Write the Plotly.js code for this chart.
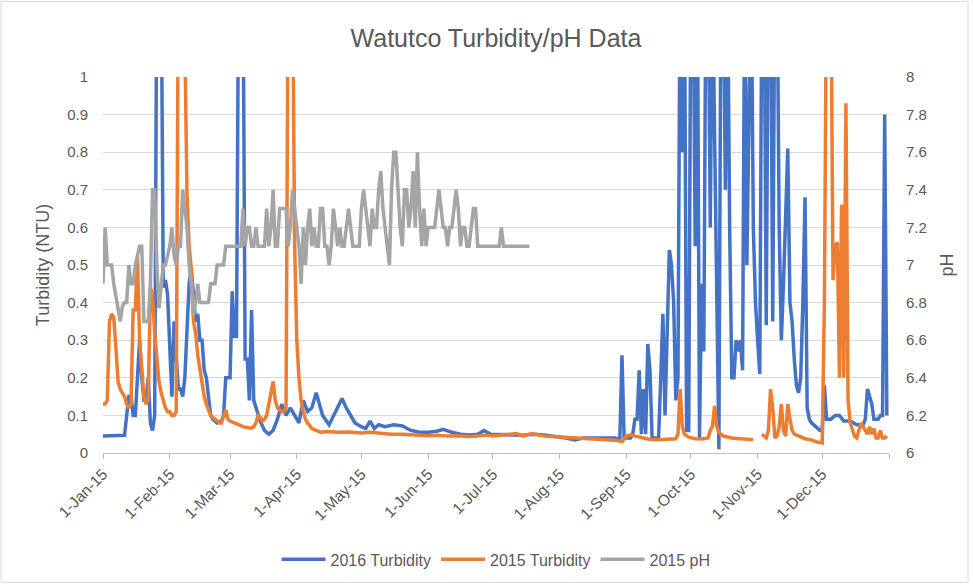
<!DOCTYPE html>
<html>
<head>
<meta charset="utf-8">
<script src="https://cdn.plot.ly/plotly-3.0.1.min.js"></script>
<style>
html,body{margin:0;padding:0;background:#fff;}
#chart{width:973px;height:588px;}
</style>
</head>
<body>
<div id="chart"></div>
<script>
// ---- Data (dates as MM-DD in 2015) ----
const seriesNames = ['2016 Turbidity', '2015 Turbidity', '2015 pH'];

const turb2016Dates = ['01-01','01-05','01-09','01-11','01-12','01-13','01-14','01-15','01-16','01-17','01-18','01-19','01-20','01-21','01-22','01-23','01-24','01-25','01-26','01-27','01-28','01-29','01-30','01-31',
'02-01','02-02','02-03','02-04','02-05','02-06','02-07','02-08','02-09','02-10','02-11','02-12','02-13','02-14','02-15','02-16','02-17','02-18','02-19','02-20','02-21','02-23','02-25','02-26','02-27','02-28',
'03-01','03-02','03-03','03-04','03-05','03-06','03-07','03-08','03-09','03-10','03-11','03-12','03-13','03-14','03-15','03-17','03-19','03-21','03-23','03-25','03-27','03-29','03-31',
'04-02','04-04','04-06','04-08','04-10','04-11','04-13','04-16','04-20','04-22','04-24','04-26','04-28',
'05-01','05-03','05-05','05-07','05-09','05-12','05-16','05-20','05-24','05-28',
'06-01','06-05','06-08','06-12','06-16','06-20','06-24','06-27','06-30',
'07-05','07-10','07-15','07-20','07-25','07-30',
'08-04','08-08','08-12','08-16','08-20','08-24','08-27','08-29','08-30','08-31',
'09-01','09-03','09-04','09-05','09-06','09-07','09-08','09-09','09-10','09-11','09-12','09-13','09-14','09-15','09-16','09-17','09-18','09-19','09-20','09-21','09-22','09-23','09-24','09-25','09-26','09-27','09-28','09-29','09-30',
'10-01','10-02','10-03','10-04','10-05','10-06','10-07','10-08','10-09','10-10','10-11','10-12','10-13','10-14','10-15','10-16','10-17','10-18','10-19','10-20','10-21','10-22','10-23','10-24','10-25','10-26','10-27','10-28','10-29','10-30','10-31',
'11-01','11-02','11-03','11-04','11-05','11-06','11-07','11-08','11-09','11-10','11-11','11-12','11-13','11-14','11-15','11-16','11-17','11-18','11-19','11-20','11-21','11-22','11-23','11-24','11-25','11-26','11-28','11-30',
'12-01','12-02','12-03','12-05','12-07','12-09','12-11','12-14','12-17','12-20','12-21','12-22','12-23','12-24','12-25','12-27','12-28','12-29','12-30','12-31'];
const turb2016Vals = [0.045,0.045,0.045,0.047,0.1,0.15,0.15,0.1,0.1,0.2,0.3,0.2,0.14,0.14,0.2,0.08,0.06,0.1,1.3,1.3,1.3,0.44,0.46,0.42,
0.3,0.15,0.35,0.25,0.17,0.17,0.15,0.2,0.35,0.45,0.49,0.42,0.35,0.37,0.3,0.3,0.22,0.2,0.14,0.1,0.09,0.08,0.085,0.1,0.2,0.2,
0.2,0.43,0.31,0.31,1.3,1.3,1.3,0.25,0.25,0.14,0.38,0.14,0.12,0.1,0.085,0.06,0.05,0.06,0.09,0.13,0.1,0.12,0.1,
0.08,0.14,0.11,0.12,0.16,0.14,0.1,0.075,0.12,0.145,0.12,0.1,0.08,
0.07,0.065,0.085,0.065,0.075,0.07,0.075,0.072,0.06,0.055,
0.055,0.058,0.063,0.055,0.05,0.048,0.05,0.06,0.05,
0.048,0.048,0.047,0.05,0.048,0.045,
0.04,0.035,0.04,0.04,0.04,0.038,0.04,0.035,0.26,0.04,
0.04,0.04,0.05,0.09,0.09,0.22,0.05,0.17,0.05,0.29,0.22,0.04,0.04,0.04,0.04,0.2,0.37,0.1,0.3,0.54,0.5,0.4,0.14,0.2,1.3,0.8,1.3,0.06,0.06,
1.3,1.3,0.55,1.3,0.04,0.45,0.27,1.3,1.3,0.6,1.3,0.85,0.4,0.01,1.3,1.3,0.7,1.3,0.6,0.2,0.2,0.3,0.27,0.3,0.22,1.3,0.5,1.3,1.3,0.6,0.4,
0.3,0.21,1.3,1.3,0.34,1.3,1.3,0.35,1.3,1.3,0.6,0.3,0.45,0.6,0.81,0.4,0.35,0.25,0.18,0.16,0.2,0.4,0.68,0.12,0.09,0.08,0.07,0.06,
0.06,0.18,0.09,0.09,0.1,0.1,0.085,0.085,0.075,0.075,0.09,0.17,0.15,0.13,0.09,0.09,0.1,0.1,0.9,0.1];

const turb2015Dates = ['01-01','01-02','01-03','01-04','01-05','01-06','01-07','01-08','01-09','01-10','01-11','01-12','01-13','01-14','01-15','01-16','01-17','01-18','01-19','01-20','01-21','01-22','01-23','01-24','01-25','01-26','01-27','01-28','01-29','01-30','01-31',
'02-01','02-02','02-03','02-04','02-05','02-06','02-07','02-08','02-09','02-10','02-11','02-12','02-13','02-14','02-15','02-16','02-17','02-18','02-19','02-20','02-22','02-24','02-25','02-26','02-27','02-28',
'03-01','03-03','03-05','03-07','03-09','03-11','03-12','03-13','03-14','03-15','03-16','03-17','03-18','03-19','03-20','03-21','03-22','03-23','03-24','03-25','03-26','03-27','03-28','03-29','03-30','03-31',
'04-01','04-02','04-03','04-04','04-05','04-06','04-08','04-10','04-12','04-15','04-20','04-25',
'05-01','05-05','05-10','05-15','05-20','05-25',
'06-01','06-05','06-10','06-15','06-20','06-25','06-28',
'07-01','07-05','07-12','07-15','07-19','07-25',
'08-01','08-05','08-10','08-15','08-20','08-25','08-28','08-30',
'09-01','09-03','09-05','09-08','09-12','09-16','09-20','09-24','09-25','09-26','09-27','09-28','09-30',
'10-03','10-06','10-09','10-10','10-11','10-12','10-13','10-14','10-16','10-20','10-24','10-28','10-30','11-01',
'11-03','11-04','11-05','11-06','11-07','11-08','11-09','11-10','11-11','11-12','11-13','11-14','11-15','11-16','11-17','11-18','11-20','11-23','11-26','11-28','11-30',
'12-01','12-02','12-03','12-04','12-05','12-06','12-07','12-08','12-09','12-10','12-11','12-12','12-13','12-14','12-15','12-16','12-17','12-18','12-19','12-20','12-21','12-22','12-23','12-24','12-25','12-26','12-27','12-28','12-29','12-30','12-31'];
const turb2015Vals = [0.13,0.13,0.14,0.35,0.37,0.36,0.28,0.19,0.17,0.16,0.15,0.13,0.12,0.13,0.38,0.38,0.52,0.3,0.21,0.15,0.13,0.14,0.44,0.42,0.32,0.26,0.19,0.16,0.14,0.12,0.11,
0.11,0.1,0.1,0.11,1.3,1.3,1.3,1.1,0.69,0.55,0.49,0.35,0.32,0.26,0.22,0.19,0.15,0.13,0.115,0.1,0.09,0.08,0.08,0.1,0.115,0.09,
0.085,0.08,0.075,0.07,0.068,0.066,0.07,0.08,0.1,0.095,0.085,0.09,0.1,0.13,0.17,0.19,0.14,0.12,0.115,0.11,0.11,0.12,1.3,1.3,1.3,0.55,
0.3,0.2,0.14,0.11,0.09,0.08,0.065,0.06,0.055,0.057,0.055,0.056,
0.053,0.055,0.052,0.05,0.05,0.048,
0.046,0.047,0.045,0.046,0.044,0.046,0.048,
0.045,0.047,0.052,0.045,0.052,0.045,
0.043,0.04,0.04,0.038,0.036,0.035,0.033,0.03,
0.045,0.048,0.045,0.04,0.036,0.035,0.036,0.038,0.05,0.17,0.07,0.05,0.042,
0.038,0.037,0.04,0.06,0.07,0.125,0.07,0.055,0.045,0.04,0.037,0.036,0.035,null,
0.05,0.045,0.04,0.06,0.17,0.12,0.04,0.045,0.07,0.13,0.06,0.045,0.13,0.09,0.06,0.05,0.045,0.038,0.035,0.03,0.028,
0.027,0.4,1.3,1.3,1.3,0.46,0.55,0.56,0.2,0.66,0.2,0.93,0.14,0.08,0.06,0.045,0.04,0.06,0.08,0.07,0.06,0.05,0.07,0.05,0.065,0.04,0.04,0.06,0.04,0.04,0.045];

const ph2015Dates = ['01-01','01-02','01-03','01-04','01-05','01-06','01-07','01-08','01-09','01-10','01-11','01-12','01-13','01-14','01-15','01-16','01-17','01-18','01-19','01-20','01-21','01-22','01-23','01-24','01-25','01-26','01-27','01-28','01-29','01-30','01-31',
'02-01','02-02','02-03','02-04','02-05','02-06','02-07','02-08','02-09','02-10','02-11','02-12','02-13','02-14','02-15','02-16','02-17','02-18','02-19','02-20','02-21','02-22','02-23','02-24','02-25','02-26','02-27','02-28',
'03-01','03-02','03-03','03-04','03-05','03-06','03-07','03-08','03-09','03-10','03-11','03-12','03-13','03-14','03-15','03-16','03-17','03-18','03-19','03-20','03-21','03-22','03-23','03-24','03-25','03-26','03-27','03-28','03-29','03-30','03-31',
'04-01','04-02','04-03','04-04','04-05','04-06','04-07','04-08','04-09','04-10','04-11','04-12','04-13','04-14','04-15','04-16','04-17','04-18','04-19','04-20','04-21','04-22','04-23','04-24','04-25','04-26','04-27','04-28','04-29','04-30',
'05-01','05-02','05-03','05-04','05-05','05-06','05-07','05-08','05-09','05-10','05-11','05-12','05-13','05-14','05-15','05-16','05-17','05-18','05-19','05-20','05-21','05-22','05-23','05-24','05-25','05-26','05-27','05-28','05-29','05-30','05-31',
'06-01','06-02','06-03','06-04','06-05','06-06','06-07','06-08','06-09','06-10','06-11','06-12','06-13','06-14','06-15','06-16','06-17','06-18','06-19','06-20','06-21','06-22','06-23','06-24','06-25','06-28',
'07-01','07-04','07-05','07-06','07-10','07-14','07-18'];
const ph2015Vals = [6.9,7.2,7.0,7.0,7.0,6.9,6.84,6.78,6.7,6.78,6.8,6.8,7.0,6.9,6.9,7.0,7.05,7.1,7.1,6.7,6.7,6.7,6.9,7.4,7.4,7.0,6.77,6.9,7.0,7.0,7.05,
7.1,7.2,7.05,7.0,7.1,7.1,7.4,7.3,7.2,7.0,6.9,6.73,6.8,6.9,6.8,6.8,6.8,6.8,6.8,6.9,6.9,6.9,7.0,7.0,7.0,7.0,7.1,7.1,
7.1,7.1,7.1,7.1,7.1,7.1,7.3,7.1,7.2,7.2,7.1,7.1,7.2,7.1,7.1,7.1,7.1,7.3,7.1,7.2,7.4,7.1,7.1,7.3,7.3,7.3,7.3,7.1,7.2,7.4,7.3,
7.2,7.1,6.9,7.2,7.0,7.2,7.3,7.1,7.2,7.1,7.1,7.3,7.3,7.1,7.1,7.0,7.1,7.3,7.2,7.1,7.2,7.1,7.1,7.2,7.3,7.2,7.1,7.1,7.1,7.1,
7.3,7.4,7.3,7.2,7.1,7.3,7.2,7.2,7.4,7.5,7.3,7.2,7.1,7.0,7.4,7.6,7.6,7.4,7.2,7.1,7.4,7.4,7.2,7.3,7.5,7.2,7.6,7.3,7.1,7.3,7.1,
7.2,7.2,7.2,7.2,7.3,7.4,7.3,7.2,7.2,7.1,7.2,7.2,7.3,7.4,7.3,7.1,7.2,7.2,7.1,7.1,7.2,7.3,7.3,7.1,7.1,7.1,
7.1,7.1,7.2,7.1,7.1,7.1,7.1];

const monthTicks = ['2015-01-01','2015-02-01','2015-03-01','2015-04-01','2015-05-01','2015-06-01','2015-07-01','2015-08-01','2015-09-01','2015-10-01','2015-11-01','2015-12-01','2016-01-01'];
const monthLabels = ['1-Jan-15','1-Feb-15','1-Mar-15','1-Apr-15','1-May-15','1-Jun-15','1-Jul-15','1-Aug-15','1-Sep-15','1-Oct-15','1-Nov-15','1-Dec-15',''];
const leftTicks = [0,0.1,0.2,0.3,0.4,0.5,0.6,0.7,0.8,0.9,1];
const leftLabels = ['0','0.1','0.2','0.3','0.4','0.5','0.6','0.7','0.8','0.9','1'];
const rightTicks = [6,6.2,6.4,6.6,6.8,7,7.2,7.4,7.6,7.8,8];
const rightLabels = ['6','6.2','6.4','6.6','6.8','7','7.2','7.4','7.6','7.8','8'];

const toDate = d => '2015-' + d;
const FONT = 'Liberation Sans, Arial, sans-serif';
const TXT = '#595959';

const traces = [
  {x: turb2016Dates.map(toDate), y: turb2016Vals, name: seriesNames[0], type: 'scatter', mode: 'lines',
   line: {color: '#4472c4', width: 3.5}, connectgaps: false},
  {x: turb2015Dates.map(toDate), y: turb2015Vals, name: seriesNames[1], type: 'scatter', mode: 'lines',
   line: {color: '#ed7d31', width: 3.5}, connectgaps: false},
  {x: ph2015Dates.map(toDate), y: ph2015Vals, name: seriesNames[2], type: 'scatter', mode: 'lines',
   line: {color: '#a5a5a5', width: 3.5}, yaxis: 'y2'}
];

const L = 103, R = 889, T = 77, B = 455;
const W = 973, H = 588;
const pw = R - L, ph = B - T;

const layout = {
  width: W, height: H,
  margin: {l: L, r: W - R, t: T, b: H - B, pad: 0},
  paper_bgcolor: '#ffffff', plot_bgcolor: '#ffffff',
  font: {family: FONT, color: TXT, size: 14},
  title: {text: 'Watutco Turbidity/pH Data', font: {family: FONT, size: 25, color: TXT},
          x: 0.5, xref: 'paper', xanchor: 'center', y: 1 - 38 / H, yanchor: 'middle'},
  showlegend: true,
  legend: {orientation: 'h', x: 0.5, xanchor: 'center', y: (B - 562) / ph, yanchor: 'middle',
           font: {family: FONT, size: 16, color: TXT}, itemwidth: 44, tracegroupgap: 0},
  xaxis: {type: 'date', range: ['2015-01-01', '2016-01-01'], tickvals: monthTicks, ticktext: monthLabels,
          tickangle: -45, ticks: 'outside', ticklen: 5, tickcolor: '#bfbfbf', showline: true, linecolor: '#bfbfbf',
          linewidth: 1, showgrid: false, zeroline: false, tickfont: {family: FONT, size: 15.5, color: TXT}},
  yaxis: {range: [0, 1], tickvals: leftTicks, ticktext: leftLabels, showgrid: true, gridcolor: '#d9d9d9', gridwidth: 1,
          zeroline: false, showline: false, ticks: '', ticklabelstandoff: 14,
          tickfont: {family: FONT, size: 15, color: TXT},
          title: {text: 'Turbidity (NTU)', font: {family: FONT, size: 18, color: TXT}, standoff: 12}},
  yaxis2: {range: [6, 8], tickvals: rightTicks, ticktext: rightLabels, overlaying: 'y', side: 'right', showgrid: false,
           zeroline: false, showline: false, ticks: '', ticklabelstandoff: 16,
           tickfont: {family: FONT, size: 15, color: TXT},
           title: {text: 'pH', font: {family: FONT, size: 18, color: TXT}, standoff: 14}},
  shapes: [{type: 'rect', xref: 'paper', yref: 'paper',
            x0: (1 - L) / pw, x1: (968 - L) / pw, y0: (B - 585) / ph, y1: (B - 1) / ph,
            line: {color: '#d9d9d9', width: 1}, fillcolor: 'rgba(0,0,0,0)', layer: 'below'}]
};

Plotly.newPlot('chart', traces, layout, {displayModeBar: false, staticPlot: true});
</script>
</body>
</html>
